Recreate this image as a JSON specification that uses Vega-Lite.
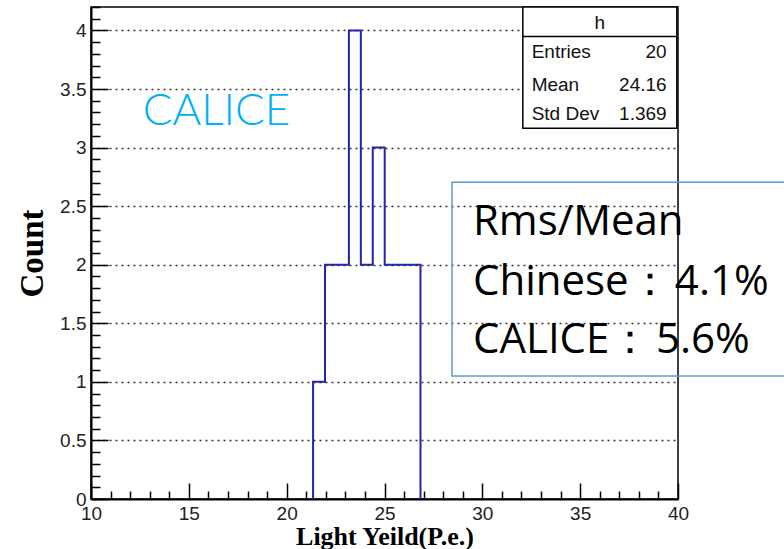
{
  "$schema": "https://vega.github.io/schema/vega-lite/v6.json",
  "width": 587,
  "height": 492,
  "autosize": {"type": "none"},
  "padding": {"left": 91, "top": 7, "right": 106, "bottom": 50},
  "background": "white",
  "config": {
    "view": {"stroke": "black", "strokeWidth": 1.5},
    "axis": {
      "labelFont": "Liberation Sans",
      "labelFontSize": 19,
      "labelColor": "#222222",
      "domainColor": "black",
      "domainWidth": 2,
      "tickColor": "black",
      "tickWidth": 1.5,
      "titleFont": "Liberation Serif",
      "titleFontWeight": "bold",
      "titleColor": "black",
      "labelFlush": false,
      "labelOverlap": false,
      "tickCount": 500
    }
  },
  "datasets": {
    "hist": [
      {"x": 21.35, "y": 0},
      {"x": 21.35, "y": 1},
      {"x": 21.96, "y": 2},
      {"x": 22.57, "y": 2},
      {"x": 23.18, "y": 4},
      {"x": 23.79, "y": 2},
      {"x": 24.40, "y": 3},
      {"x": 25.01, "y": 2},
      {"x": 25.62, "y": 2},
      {"x": 26.23, "y": 2},
      {"x": 26.84, "y": 0}
    ],
    "boxes": [
      {"g": "stats", "x": 32.07, "x2": 39.94, "y": 4.2, "y2": 3.164},
      {"g": "note", "x": 28.45, "x2": 46, "y": 2.704, "y2": 1.049}
    ],
    "divider": [
      {"x": 32.07, "x2": 39.94, "y": 3.949}
    ],
    "labels": [
      {"g": "statC", "x": 36.0, "y": 4.014, "text": "h"},
      {"g": "statL", "x": 32.52, "y": 3.761, "text": "Entries"},
      {"g": "statL", "x": 32.52, "y": 3.482, "text": "Mean"},
      {"g": "statL", "x": 32.52, "y": 3.238, "text": "Std Dev"},
      {"g": "statR", "x": 39.42, "y": 3.761, "text": "20"},
      {"g": "statR", "x": 39.42, "y": 3.482, "text": "24.16"},
      {"g": "statR", "x": 39.42, "y": 3.238, "text": "1.369"},
      {"g": "calice", "x": 12.64, "y": 3.19, "text": "CALICE"},
      {"g": "note", "x": 29.52, "y": 2.252, "text": "Rms/Mean"},
      {"g": "note", "x": 29.52, "y": 1.740, "text": "Chinese："},
      {"g": "note", "x": 39.84, "y": 1.740, "text": "4.1%"},
      {"g": "note", "x": 29.52, "y": 1.245, "text": "CALICE："},
      {"g": "note", "x": 38.87, "y": 1.245, "text": "5.6%"}
    ]
  },
  "layer": [
    {
      "data": {"name": "hist"},
      "mark": {"type": "line", "interpolate": "step-after", "color": "#2424a8", "strokeWidth": 2},
      "encoding": {
        "x": {
          "field": "x", "type": "quantitative",
          "scale": {"domain": [10, 40], "nice": false, "zero": false},
          "axis": {
            "values": [10,11,12,13,14,15,16,17,18,19,20,21,22,23,24,25,26,27,28,29,30,31,32,33,34,35,36,37,38,39,40],
            "tickCount": 500,
            "labelExpr": "datum.value % 5 == 0 ? format(datum.value, 'd') : ''",
            "tickSize": {"condition": {"test": "datum.value % 5 == 0", "value": -16}, "value": -8},
            "labelPadding": 21,
            "grid": false,
            "title": "Light Yeild(P.e.)",
            "titleFontSize": 26,
            "titlePadding": -8
          }
        },
        "y": {
          "field": "y", "type": "quantitative",
          "scale": {"domain": [0, 4.2], "nice": false, "zero": false},
          "axis": {
            "values": [0,0.1,0.2,0.3,0.4,0.5,0.6,0.7,0.8,0.9,1,1.1,1.2,1.3,1.4,1.5,1.6,1.7,1.8,1.9,2,2.1,2.2,2.3,2.4,2.5,2.6,2.7,2.8,2.9,3,3.1,3.2,3.3,3.4,3.5,3.6,3.7,3.8,3.9,4,4.1,4.2],
            "tickCount": 500,
            "labelExpr": "abs(datum.value*2-round(datum.value*2))<0.001 ? format(datum.value,'~g') : ''",
            "tickSize": {"condition": {"test": "abs(datum.value*2-round(datum.value*2))<0.001", "value": -17}, "value": -9},
            "labelPadding": 22,
            "grid": true,
            "gridDash": [2, 4],
            "gridColor": "#000000",
            "gridWidth": 1.5,
            "gridOpacity": {"condition": {"test": "abs(datum.value*2-round(datum.value*2))<0.001 && datum.value < 4.1 && datum.value > 0.1", "value": 0.8}, "value": 0},
            "title": "Count",
            "titleFontSize": 33,
            "titlePadding": 10
          }
        }
      }
    },
    {
      "data": {"name": "boxes"},
      "transform": [{"filter": "datum.g == 'stats'"}],
      "mark": {"type": "rect", "fill": "white", "stroke": "black", "strokeWidth": 1.5},
      "encoding": {
        "x": {"field": "x", "type": "quantitative"},
        "x2": {"field": "x2"},
        "y": {"field": "y", "type": "quantitative"},
        "y2": {"field": "y2"}
      }
    },
    {
      "data": {"name": "divider"},
      "mark": {"type": "rule", "color": "black", "strokeWidth": 1.5},
      "encoding": {
        "x": {"field": "x", "type": "quantitative"},
        "x2": {"field": "x2"},
        "y": {"field": "y", "type": "quantitative"}
      }
    },
    {
      "data": {"name": "boxes"},
      "transform": [{"filter": "datum.g == 'note'"}],
      "mark": {"type": "rect", "fillOpacity": 0, "stroke": "#5b9bd5", "strokeWidth": 1.5},
      "encoding": {
        "x": {"field": "x", "type": "quantitative"},
        "x2": {"field": "x2"},
        "y": {"field": "y", "type": "quantitative"},
        "y2": {"field": "y2"}
      }
    },
    {
      "data": {"name": "labels"},
      "transform": [{"filter": "datum.g == 'statC'"}],
      "mark": {"type": "text", "font": "Liberation Sans", "fontSize": 19, "align": "center", "baseline": "alphabetic", "color": "#111111"},
      "encoding": {
        "x": {"field": "x", "type": "quantitative"},
        "y": {"field": "y", "type": "quantitative"},
        "text": {"field": "text"}
      }
    },
    {
      "data": {"name": "labels"},
      "transform": [{"filter": "datum.g == 'statL'"}],
      "mark": {"type": "text", "font": "Liberation Sans", "fontSize": 19, "align": "left", "baseline": "alphabetic", "color": "#111111"},
      "encoding": {
        "x": {"field": "x", "type": "quantitative"},
        "y": {"field": "y", "type": "quantitative"},
        "text": {"field": "text"}
      }
    },
    {
      "data": {"name": "labels"},
      "transform": [{"filter": "datum.g == 'statR'"}],
      "mark": {"type": "text", "font": "Liberation Sans", "fontSize": 19, "align": "right", "baseline": "alphabetic", "color": "#111111"},
      "encoding": {
        "x": {"field": "x", "type": "quantitative"},
        "y": {"field": "y", "type": "quantitative"},
        "text": {"field": "text"}
      }
    },
    {
      "data": {"name": "labels"},
      "transform": [{"filter": "datum.g == 'calice'"}],
      "mark": {"type": "text", "font": "Lato", "fontWeight": 300, "fontSize": 44, "align": "left", "baseline": "alphabetic", "color": "#00b0f0"},
      "encoding": {
        "x": {"field": "x", "type": "quantitative"},
        "y": {"field": "y", "type": "quantitative"},
        "text": {"field": "text"}
      }
    },
    {
      "data": {"name": "labels"},
      "transform": [{"filter": "datum.g == 'note'"}],
      "mark": {"type": "text", "font": "Open Sans", "fontSize": 42, "align": "left", "baseline": "alphabetic", "color": "#000000"},
      "encoding": {
        "x": {"field": "x", "type": "quantitative"},
        "y": {"field": "y", "type": "quantitative"},
        "text": {"field": "text"}
      }
    }
  ]
}
